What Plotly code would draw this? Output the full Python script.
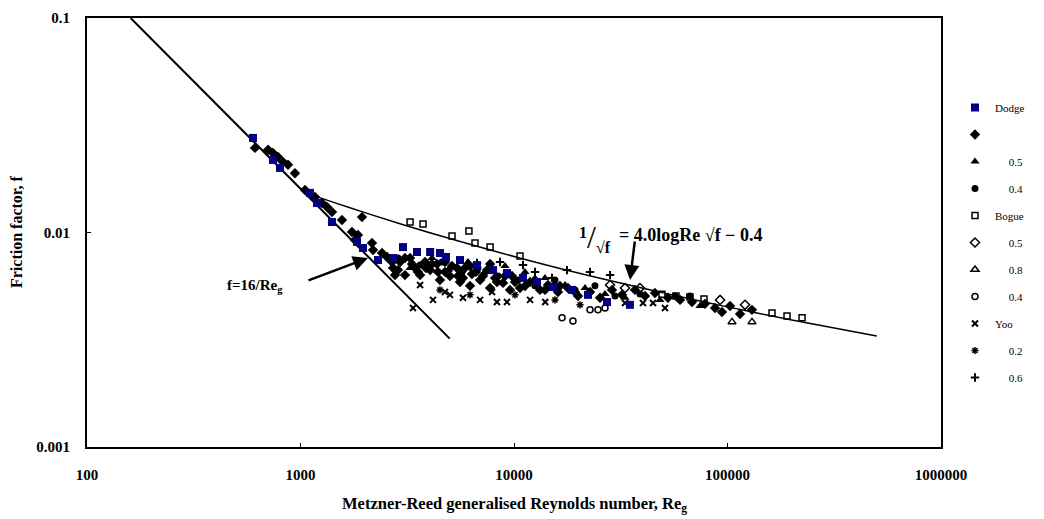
import plotly.graph_objects as go

# ---------------- data ----------------
lam_re = [160, 5000]
lam_f = [0.1, 0.0032]

turb_re = [1100, 1500, 2000, 3000, 5000, 10000, 20000, 50000, 100000, 200000, 500000]
turb_f = [0.0151, 0.0136, 0.01238, 0.0109, 0.00937, 0.00773, 0.00647, 0.00523, 0.0045, 0.00391, 0.00329]

dodge_re = [599, 743, 802, 1107, 1195, 1404, 1839, 1962, 2307, 2712, 3020, 3513, 4047, 4500,
            4800, 5585, 6710, 7973, 9270, 11020, 12820, 15230, 18700, 22200, 27270, 34900]
dodge_f = [0.0276, 0.0218, 0.0200, 0.0153, 0.01372, 0.01119, 0.00904, 0.00847, 0.00744, 0.0076,
           0.00855, 0.00811, 0.00811, 0.00802, 0.00769, 0.00744, 0.00705, 0.00668, 0.00647, 0.00614,
           0.00588, 0.00557, 0.0054, 0.00512, 0.00474, 0.0046]

dia_re = [612, 705, 743, 785, 828, 874, 942, 1050, 1169, 1261, 1331, 1404, 1564, 1941, 1742, 1858,
          1799, 2162, 2186, 2408, 2542, 2712, 3085,
          2926, 3260, 3437, 3830, 4047, 4357, 4750, 5125, 5466, 5890, 6355, 6934, 7474, 8150, 8882,
          9787, 10670, 11890, 13240, 14430, 16070, 17900, 19950, 22700, 25290, 28770, 32050, 36870,
          41080, 45740, 52600, 59950, 68200, 78440, 87400, 94200, 102800, 114500, 130200,
          2771, 3632, 4500, 5585, 6223, 7726, 9580,
          2683, 2862, 3086, 3329, 3551, 3870, 4129, 4406, 4751, 5012, 5408, 5769, 6223, 6637, 7158,
          7726, 8324, 9075, 10110, 11260, 12540, 13970, 16410, 19310]
dia_f = [0.0248, 0.0243, 0.0235, 0.0225, 0.0213, 0.0207, 0.0189, 0.01578, 0.01464, 0.01372, 0.01315,
         0.01247, 0.01143, 0.0118, 0.01005, 0.00973, 0.00923, 0.00893, 0.00829, 0.00802, 0.00769,
         0.00683, 0.00633,
         0.00729, 0.0076, 0.00683, 0.00729, 0.00668, 0.00713, 0.00655, 0.00698, 0.00627, 0.00683,
         0.00641, 0.00601, 0.00668, 0.00614, 0.00582, 0.00627, 0.00551, 0.00588, 0.0054, 0.00569,
         0.00528, 0.00551, 0.00506, 0.00528, 0.00496, 0.0054, 0.00512, 0.0054, 0.00506, 0.00522,
         0.00496, 0.00485, 0.00474, 0.00465, 0.00445, 0.00426, 0.00454, 0.00417, 0.00436,
         0.00633, 0.00633, 0.00601, 0.00588, 0.00564, 0.00551, 0.0054,
         0.00729, 0.00668, 0.0076, 0.00713, 0.00655, 0.00683, 0.00713, 0.00655, 0.00729, 0.00627,
         0.00683, 0.00614, 0.00698, 0.00655, 0.00627, 0.00713, 0.00588, 0.00627, 0.00588, 0.00563,
         0.00601, 0.0054, 0.00563, 0.00528]

tri_re = [3260, 4130, 4909, 6087, 7313, 9075, 11260, 13970, 17340, 21510, 26680, 33110, 48300, 74300]
tri_f = [0.00683, 0.0076, 0.00668, 0.00729, 0.00655, 0.00698, 0.00655, 0.00614, 0.00569, 0.00551,
         0.00517, 0.00496, 0.00485, 0.00454]

dot_re = [2862, 3632, 4600, 5705, 6780, 8414, 10440, 12540, 15560, 19310, 23940, 29720, 38900, 56750, 66700]
dot_f = [0.0076, 0.00705, 0.00729, 0.00655, 0.00683, 0.00627, 0.00601, 0.00564, 0.00601, 0.0054,
         0.00564, 0.00506, 0.00517, 0.00506, 0.00506]

bogue_re = [3260, 3748, 5125, 6150, 6565, 7726, 10670, 49300, 57400, 66700, 77600, 161600, 190000, 223400]
bogue_f = [0.0112, 0.01095, 0.00964, 0.01016, 0.00893, 0.00856, 0.00777, 0.00516, 0.00506, 0.00501,
           0.0049, 0.00421, 0.00408, 0.004]

odia_re = [28180, 33110, 38900, 92300, 120800]
odia_f = [0.00569, 0.00551, 0.00551, 0.00485, 0.0046]

otri_re = [105000, 130200]
otri_f = [0.00383, 0.00383]

ocir_re = [16790, 18890, 22700, 24730, 26680]
ocir_f = [0.0040, 0.00387, 0.00436, 0.00436, 0.00445]

yoo_re = [3632, 4174, 4750, 5012, 5768, 6934, 7888, 8320, 9270, 3365, 33110, 40200, 44790, 50970, 11890, 14000]
yoo_f = [0.00569, 0.00485, 0.00528, 0.00512, 0.00496, 0.00485, 0.00528, 0.00474, 0.00474, 0.00445,
         0.00469, 0.00469, 0.00469, 0.00445, 0.00485, 0.00474]

ast_re = [4500, 6223, 10110, 15560, 20380]
ast_f = [0.0054, 0.00512, 0.00512, 0.00485, 0.0046]

plus_re = [6710, 8600, 11020, 12540, 15060, 22700, 17700, 28180]
plus_f = [0.00721, 0.00729, 0.00705, 0.00655, 0.00614, 0.00655, 0.00668, 0.00633]

x_tickvals = [100, 1000, 10000, 100000, 1000000]
x_ticktext = ["100", "1000", "10000", "100000", "1000000"]
y_tickvals = [0.001, 0.01, 0.1]
y_ticktext = ["0.001", "0.01", "0.1"]

# ---------------- figure ----------------
fig = go.Figure()
fig.add_trace(go.Scatter(x=lam_re, y=lam_f, mode="lines", line=dict(color="black", width=2),
                         showlegend=False, hoverinfo="skip"))
fig.add_trace(go.Scatter(x=turb_re, y=turb_f, mode="lines", line=dict(color="black", width=1.5, shape="spline"),
                         showlegend=False, hoverinfo="skip"))

NB = "\u00a0"
IND = NB * 5

def mk(xs, ys, name, symbol, size, color="black", lw=0, rank=1):
    m = dict(symbol=symbol, size=size, color=color, line=dict(color=color, width=lw))
    fig.add_trace(go.Scatter(x=xs, y=ys, mode="markers", name=name, marker=m,
                             legendgroup="g%d" % rank, legendrank=rank))

mk(dia_re, dia_f, NB, "diamond", 8, rank=2)
mk(tri_re, tri_f, IND + "0.5", "triangle-up", 8, rank=3)
mk(dot_re, dot_f, IND + "0.4", "circle", 7, rank=4)
mk(bogue_re, bogue_f, "Bogue", "square-open", 6, lw=1.5, rank=5)
mk(odia_re, odia_f, IND + "0.5", "diamond-open", 7, lw=1.5, rank=6)
mk(otri_re, otri_f, IND + "0.8", "triangle-up-open", 7, lw=1.5, rank=7)
mk(ocir_re, ocir_f, IND + "0.4", "circle-open", 6, lw=1.5, rank=8)
mk(yoo_re, yoo_f, "Yoo", "x-thin-open", 6, lw=2, rank=9)
mk(ast_re, ast_f, IND + "0.2", "asterisk-open", 6, lw=1.5, rank=10)
mk(plus_re, plus_f, IND + "0.6", "cross-thin-open", 6, lw=2, rank=11)
mk(dodge_re, dodge_f, "Dodge", "square", 8, color="#000080", rank=1)

SERIF = "Liberation Serif"
axis_common = dict(type="log", showgrid=False, zeroline=False, showline=True, linecolor="black",
                   linewidth=2, mirror=True, ticks="inside", ticklen=4, tickwidth=1, tickcolor="black",
                   automargin=False,
                   tickfont=dict(family=SERIF, size=15, color="black", weight="bold"))

fig.update_xaxes(range=[2, 6], tickvals=x_tickvals, ticktext=x_ticktext, ticklabelstandoff=13, **axis_common)
fig.update_yaxes(range=[-3, -1], tickvals=y_tickvals, ticktext=y_ticktext, ticklabelstandoff=12, **axis_common)

# page-pixel -> paper coordinates of the plot area (left 87, right 941, top 18, bottom 447)
def px2paper(px, py):
    return (px - 87) / 854.0, (447 - py) / 429.0

anns = []
def txt(text, px, py, size, xanchor="center", angle=0, bold=True):
    x, y = px2paper(px, py)
    anns.append(dict(text=("<b>%s</b>" % text) if bold else text, x=x, y=y, xref="paper", yref="paper",
                     showarrow=False, xanchor=xanchor, yanchor="middle", textangle=angle,
                     font=dict(family=SERIF, size=size, color="black")))

def arrow(hx, hy, tx, ty):
    x, y = px2paper(hx, hy)
    anns.append(dict(text="", x=x, y=y, xref="paper", yref="paper", showarrow=True,
                     ax=tx - hx, ay=ty - hy, axref="pixel", ayref="pixel",
                     arrowhead=2, arrowsize=1.2, arrowwidth=2.5, arrowcolor="black"))

txt("Metzner-Reed generalised Reynolds number, Re<sub>g</sub>", 514, 504, 16.5)
txt("Friction factor, f", 16, 232, 16, angle=-90)
txt("f=16/Re<sub>g</sub>", 255, 286, 15)
arrow(368, 258, 307, 281)
txt("<sup>1</sup><span style='font-weight:normal;font-size:32px'>/</span><sub>√f</sub>", 595, 238, 23)
txt("= 4.0logRe √f − 0.4", 617, 235, 18, xanchor="left")
arrow(630, 280, 635, 240)

# the page body adds an 8px offset, so margins are shifted to keep the plot area in place
fig.update_layout(
    width=1044, height=519,
    margin=dict(l=79, r=111, t=10, b=80, autoexpand=False),
    paper_bgcolor="white", plot_bgcolor="white",
    annotations=anns,
    legend=dict(x=px2paper(955, 0)[0], y=px2paper(0, 93)[1], xanchor="left", yanchor="top",
                font=dict(family=SERIF, size=11, color="black"), tracegroupgap=8,
                bgcolor="rgba(0,0,0,0)", borderwidth=0, itemwidth=30),
)

fig.write_html("out.html")
